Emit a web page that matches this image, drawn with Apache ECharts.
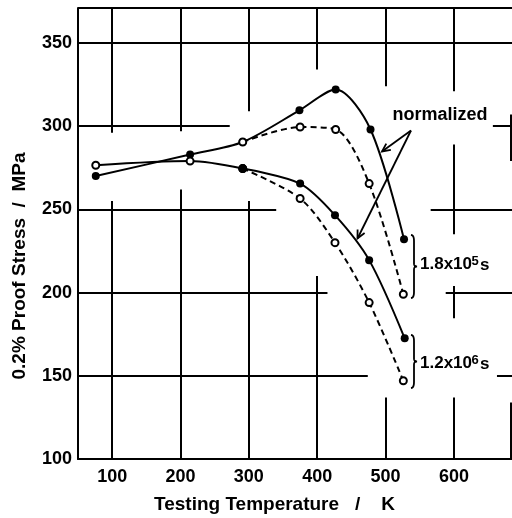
<!DOCTYPE html>
<html><head><meta charset="utf-8">
<script src="https://cdn.jsdelivr.net/npm/echarts@6/dist/echarts.min.js"></script>
<style>html,body{margin:0;padding:0;background:#fff}#c{width:512px;height:518px}</style>
</head><body><div id="c"></div>
<script>
// ---- data ----
const tempNorm18 = [76, 214, 291, 374, 427, 478, 527];
const stressNorm18 = [270, 283, 290.5, 309.5, 322, 298, 232];
const tempPlain18 = [291, 375, 427, 476, 526];
const stressPlain18 = [290.5, 299.5, 298, 265.5, 199];
const tempCommon12 = [76, 214, 291];
const stressCommon12 = [276.5, 279, 274.5];
const tempNorm12 = [291, 375, 426, 476, 528];
const stressNorm12 = [274.5, 265.5, 246.5, 219.5, 172.5];
const tempPlain12 = [291, 375, 426, 476, 526];
const stressPlain12 = [274.5, 256.5, 230, 194, 147];
const xTicks = [100, 200, 300, 400, 500, 600];
const yTicks = [100, 150, 200, 250, 300, 350];
// grid line pieces (as drawn, broken around the curves): [y, xFrom, xTo] and [x, yFrom, yTo]
const gridH = [[371,50,685],[350,50,685],[300,50,272],[300,657,685],[250,50,340],[250,566,685],
  [200,50,415],[200,588,685],[150,50,474],[150,663,685]];
const gridV = [[100,371,296],[100,255,100],[200,371,297],[200,262,100],[300,371,309],[300,255,100],
  [400,371,334],[400,210,100],[500,371,324],[500,137,100],[600,371,321],[600,289,235],[600,204,184.5],
  [600,137,100],[683,307,279],[683,134,100]];

const pts = (xs, ys) => xs.map((x, i) => [x, ys[i]]);
const FONT = '"Liberation Sans", Arial, sans-serif';

const gridLines = [];
gridH.forEach(g => gridLines.push([{coord:[g[1], g[0]]}, {coord:[g[2], g[0]]}]));
gridV.forEach(g => gridLines.push([{coord:[g[0], g[1]]}, {coord:[g[0], g[2]]}]));

function mkSeries(name, data, dashed, filled) {
  return {
    name, type: 'line', data, smooth: 0.3,
    symbol: filled ? 'circle' : 'emptyCircle',
    symbolSize: filled ? 8 : 7,
    lineStyle: {color:'#000', width: 2, type: dashed ? [6,4] : 'solid'},
    itemStyle: {color:'#000', borderColor:'#000', borderWidth: filled ? 0 : 1.7},
    emphasis: {disabled: true}, silent: true
  };
}

function arrowHead(x0, y0, x1, y1, len, ang) {
  const a = Math.atan2(y0 - y1, x0 - x1);
  return [[x1 + len*Math.cos(a+ang), y1 + len*Math.sin(a+ang)], [x1, y1],
          [x1 + len*Math.cos(a-ang), y1 + len*Math.sin(a-ang)]];
}
function quad(p0, c, p1, n) {
  const out = [];
  for (let i = 0; i <= n; i++) {
    const t = i / n, u = 1 - t;
    out.push([u*u*p0[0] + 2*u*t*c[0] + t*t*p1[0], u*u*p0[1] + 2*u*t*c[1] + t*t*p1[1]]);
  }
  return out;
}
function bracePoints(x, y1, y2, w) {
  const m = (y1 + y2) / 2, h = w / 2;
  return [].concat(
    quad([x, y1], [x+h, y1], [x+h, y1+w], 6),
    quad([x+h, m-h], [x+h, m], [x+w, m], 6),
    quad([x+w, m], [x+h, m], [x+h, m+h], 6),
    quad([x+h, y2-w], [x+h, y2], [x, y2], 6));
}

const chart = echarts.init(document.getElementById('c'), null, {renderer: 'canvas'});
const aStart = [411, 130.5], tip1 = [382, 151.5], tip2 = [357.5, 238.5];
const txt = (x, y, text, size, align) => ({type:'text', x, y, silent:true,
  style:{text, font:`bold ${size}px ${FONT}`, fill:'#000', align: align || 'left', verticalAlign:'middle'}});

chart.setOption({
  animation: false,
  backgroundColor: '#fff',
  grid: {left: 78, top: 8, right: 0, bottom: 59},
  xAxis: {type:'value', min:50, max:685, interval:50,
    axisLine:{show:true, onZero:false, lineStyle:{color:'#000', width:2}},
    axisTick:{show:false}, splitLine:{show:false},
    axisLabel:{formatter: v => xTicks.includes(v) ? String(v) : '', showMaxLabel:false,
      color:'#000', fontSize:18, fontWeight:'bold', fontFamily: FONT, margin: 9}},
  yAxis: {type:'value', min:100, max:371, interval:50,
    axisLine:{show:true, onZero:false, lineStyle:{color:'#000', width:2}},
    axisTick:{show:false}, splitLine:{show:false},
    axisLabel:{formatter: v => yTicks.includes(v) ? String(v) : '', showMaxLabel:false,
      color:'#000', fontSize:18, fontWeight:'bold', fontFamily: FONT, margin: 6}},
  series: [
    Object.assign(mkSeries('grid', [], false, true), {
      markLine:{silent:true, symbol:['none','none'], label:{show:false}, emphasis:{disabled:true},
        lineStyle:{color:'#000', width:2, type:'solid'}, data: gridLines}}),
    mkSeries('normalized 1.8x10^5 s', pts(tempNorm18, stressNorm18), false, true),
    mkSeries('1.8x10^5 s', pts(tempPlain18, stressPlain18), true, false),
    mkSeries('1.2x10^6 s', pts(tempPlain12, stressPlain12), true, false),
    mkSeries('1.2x10^6 s common', pts(tempCommon12, stressCommon12), false, false),
    mkSeries('normalized 1.2x10^6 s', pts(tempNorm12, stressNorm12), false, true)
  ],
  graphic: [
    txt(392.5, 115, 'normalized', 18),
    {type:'line', silent:true, shape:{x1:aStart[0], y1:aStart[1], x2:tip1[0], y2:tip1[1]}, style:{stroke:'#000', lineWidth:1.8}},
    {type:'line', silent:true, shape:{x1:aStart[0], y1:aStart[1], x2:tip2[0], y2:tip2[1]}, style:{stroke:'#000', lineWidth:1.8}},
    {type:'polyline', silent:true, shape:{points: arrowHead(aStart[0], aStart[1], tip1[0], tip1[1], 9, 0.45)}, style:{stroke:'#000', fill:'none', lineWidth:1.8}},
    {type:'polyline', silent:true, shape:{points: arrowHead(aStart[0], aStart[1], tip2[0], tip2[1], 9, 0.45)}, style:{stroke:'#000', fill:'none', lineWidth:1.8}},
    {type:'polyline', silent:true, shape:{points: bracePoints(411, 235, 298, 6)}, style:{stroke:'#000', fill:'none', lineWidth:1.8}},
    {type:'polyline', silent:true, shape:{points: bracePoints(411, 335, 388, 6)}, style:{stroke:'#000', fill:'none', lineWidth:1.8}},
    txt(420, 264, '1.8x10', 17), txt(471.5, 261, '5', 13), txt(480, 265, 's', 17),
    txt(420, 363, '1.2x10', 17), txt(471.5, 360, '6', 13), txt(480, 364, 's', 17),
    {type:'text', x:20, y:266, rotation: Math.PI/2, silent:true,
      style:{text:'0.2% Proof Stress  /  MPa', font:`bold 19px ${FONT}`, fill:'#000', align:'center', verticalAlign:'middle'}},
    {type:'text', x:274.5, y:505, silent:true,
      style:{text:'Testing Temperature   /    K', font:`bold 19px ${FONT}`, fill:'#000', align:'center', verticalAlign:'middle'}}
  ]
});
</script></body></html>
